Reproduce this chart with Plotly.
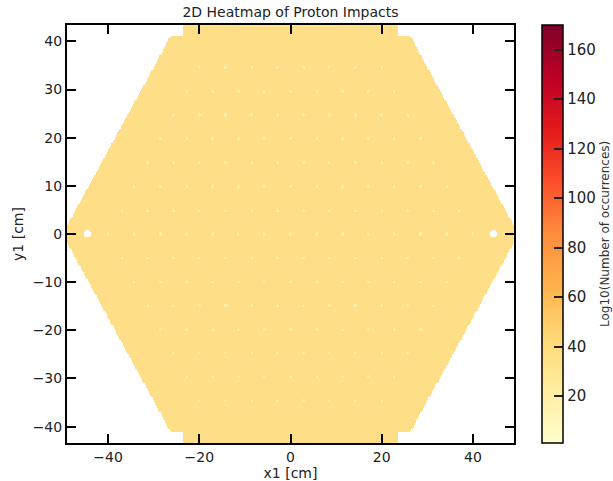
import numpy as np
import plotly.graph_objects as go

# ---- data ----
title_text = "2D Heatmap of Proton Impacts"
x_ticks = [-40, -20, 0, 20, 40]
y_ticks = [-40, -30, -20, -10, 0, 10, 20, 30, 40]
cbar_ticks = [20, 40, 60, 80, 100, 120, 140, 160]
z_min, z_max = 1, 170

base_count = 39          # typical occurrences per bin inside the detector
hole_count = 22          # small holes: fewer hits
hex_radius = 50.0        # hexagon circumradius (cm)
shelf_y = 41.2           # top/bottom cut of the hexagon
shelf_halfwidth = 23.5
hole_pitch = 5.7
hole_row_y = [-34.6, -29.6, -24.7, -19.8, -14.8, -9.9, -4.9, 0.0,
              4.9, 9.9, 14.8, 19.8, 24.7, 29.6, 34.6]
hole_row_halfext = [19.95, 22.8, 25.65, 28.5, 31.35, 34.2, 37.05, 39.9,
                    37.05, 34.2, 31.35, 28.5, 25.65, 22.8, 19.95]
big_hole_x = [-44.5, 44.5]
big_hole_y = [0.0, 0.0]

# ---- build histogram grid ----
step = 0.25
xc = np.arange(-49.0 + step / 2, 49.0, step)
yc = np.arange(-43.4 + step / 2, 43.4, step)
X, Y = np.meshgrid(xc, yc)
inside = (np.abs(Y) <= hex_radius * np.sqrt(3) / 2) & \
         (np.abs(X) <= hex_radius - np.abs(Y) / np.sqrt(3))
inside &= ~((np.abs(Y) > shelf_y) & (np.abs(X) > shelf_halfwidth))
Z = np.where(inside, float(base_count), np.nan)

for ry, hx in zip(hole_row_y, hole_row_halfext):
    for hxp in np.arange(-hx, hx + 0.01, hole_pitch):
        m = (X - hxp) ** 2 + (Y - ry) ** 2 <= 0.33 ** 2
        Z[m] = hole_count
for bx, by in zip(big_hole_x, big_hole_y):
    m = ((X - bx) / 0.7) ** 2 + ((Y - by) / 0.75) ** 2 <= 1
    Z[m] = np.nan

ylorrd = [[0.0, 'rgb(255,255,204)'], [0.125, 'rgb(255,237,160)'],
          [0.25, 'rgb(254,217,118)'], [0.375, 'rgb(254,178,76)'],
          [0.5, 'rgb(253,141,60)'], [0.625, 'rgb(252,78,42)'],
          [0.75, 'rgb(227,26,28)'], [0.875, 'rgb(189,0,38)'],
          [1.0, 'rgb(128,0,38)']]

W, H = 613, 481
L, R, T, B = 67, 99, 25, 38
pw = W - L - R

fig = go.Figure(go.Heatmap(
    x=xc, y=yc, z=Z, zmin=z_min, zmax=z_max, colorscale=ylorrd,
    zsmooth=False, hoverongaps=False, opacity=0.93,
    colorbar=dict(
        x=(542 - L) / pw, xanchor='left', xpad=0, ypad=0,
        y=0.5, yanchor='middle', len=1, lenmode='fraction',
        thickness=21, thicknessmode='pixels',
        outlinecolor='black', outlinewidth=1.5,
        tickvals=cbar_ticks, ticks='inside', ticklen=9, tickwidth=2,
        tickcolor='#222', tickfont=dict(family='DejaVu Sans', size=15, color='#222'),
    ),
))

axis_common = dict(showline=True, linecolor='black', linewidth=2, mirror='allticks',
                   ticks='inside', ticklen=9, tickwidth=2, tickcolor='black',
                   showgrid=False, zeroline=False, automargin=False,
                   tickfont=dict(family='DejaVu Sans', size=14, color='#222'))

fig.update_layout(
    width=W, height=H,
    margin=dict(l=L, r=R, t=T, b=B, autoexpand=False),
    paper_bgcolor='white', plot_bgcolor='white',
    title=dict(text=title_text, x=(L + pw / 2) / W, xanchor='center',
               y=1 - 12 / H, yanchor='middle',
               font=dict(family='DejaVu Sans', size=14, color='#222')),
    xaxis=dict(range=[-49, 49], tickvals=x_ticks,
               ticktext=[str(v).replace('-', '\u2212') for v in x_ticks],
               title=dict(text='x1 [cm]', standoff=4,
                          font=dict(family='DejaVu Sans', size=14, color='#222')),
               **axis_common),
    yaxis=dict(range=[-43.4, 43.4], tickvals=y_ticks,
               ticktext=[str(v).replace('-', '\u2212') for v in y_ticks],
               title=dict(text='y1 [cm]', standoff=6,
                          font=dict(family='DejaVu Sans', size=14, color='#222')),
               **axis_common),
    annotations=[dict(text='Log10(Number of occurrences)', textangle=-90,
                      xref='paper', yref='paper', x=(605 - L) / pw, y=0.5,
                      xanchor='center', yanchor='middle', showarrow=False,
                      font=dict(family='DejaVu Sans', size=12, color='#333'))],
)

fig.write_html("out.html")
